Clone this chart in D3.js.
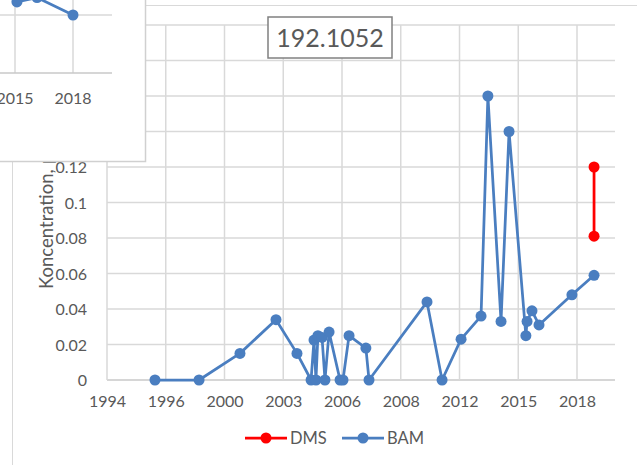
<!DOCTYPE html>
<html lang="en">
<head>
    <meta charset="utf-8">
    <title>BAM / DMS</title>
    <script src="https://d3js.org/d3.v7.min.js"></script>
    <style>
        body { margin: 0; background: #fff; }
        text { font-family: Lato, "Liberation Sans", sans-serif; fill: #595959; }
    </style>
</head>
<body>
<div id="chart"></div>
<script>
    // Measurement dates (decimal years on the chart's axis) and concentrations
    const bamDates = [1996.45, 1998.70, 2000.79, 2002.63, 2003.70, 2004.42, 2004.57, 2004.67,
        2004.77, 2004.98, 2005.13, 2005.34, 2005.90, 2006.05, 2006.36, 2007.22, 2007.38,
        2010.34, 2011.11, 2012.08, 2013.10, 2013.45, 2014.12, 2014.53, 2015.39, 2015.45,
        2015.70, 2016.06, 2017.74, 2018.87];
    const bamValues = [0, 0, 0.015, 0.034, 0.015, 0, 0.0225, 0, 0.025, 0.024, 0, 0.027,
        0, 0, 0.025, 0.018, 0, 0.044, 0, 0.023, 0.036, 0.16, 0.033, 0.14, 0.025, 0.033,
        0.039, 0.031, 0.048, 0.059];
    const dmsDates = [2018.87, 2018.87];
    const dmsValues = [0.12, 0.081];

    const xTickValues = [1994, 1997, 2000, 2003, 2006, 2009, 2012, 2015, 2018];
    const xTickLabels = ["1994", "1996", "2000", "2003", "2006", "2008", "2012", "2015", "2018"];
    const yTicks = [0, 0.02, 0.04, 0.06, 0.08, 0.1, 0.12, 0.14, 0.16, 0.18, 0.2];
    const titleText = "192.1052";
    const yTitle = "Koncentration, µg/l";

    // Overlapping piece of another chart (top-left corner)
    const insetDates = [2015.1, 2016.14, 2018.0];
    const insetValues = [0.0245, 0.026, 0.02];
    const insetTicks = [2015, 2018];

    const W = 637, H = 465;
    const plot = {left: 107, right: 615, top: 25, bottom: 380};
    const blue = "#4a7ec0", red = "#ff0000", grid = "#d9d9d9";

    const svg = d3.select("#chart").append("svg")
        .attr("width", W).attr("height", H);

    // Chart area border
    svg.append("rect")
        .attr("x", 12.5).attr("y", 5.5)
        .attr("width", W).attr("height", H)
        .attr("fill", "#fff").attr("stroke", grid);

    const x = d3.scaleLinear().domain([1994, 2019.94]).range([plot.left, plot.right]);
    const y = d3.scaleLinear().domain([0, 0.2]).range([plot.bottom, plot.top]);

    // Gridlines
    svg.append("g")
        .selectAll("line.h")
        .data(yTicks)
        .join("line")
        .attr("x1", plot.left).attr("x2", plot.right)
        .attr("y1", d => y(d)).attr("y2", d => y(d))
        .attr("stroke", d => d === 0 ? "#c8c8c8" : grid)
        .attr("stroke-width", 1.5);
    svg.append("g")
        .selectAll("line.v")
        .data(xTickValues)
        .join("line")
        .attr("x1", d => x(d)).attr("x2", d => x(d))
        .attr("y1", plot.top).attr("y2", plot.bottom)
        .attr("stroke", grid)
        .attr("stroke-width", 1.5);

    // Axes labels
    const yAxis = svg.append("g")
        .attr("transform", `translate(${plot.left - 17},0)`)
        .call(d3.axisLeft(y).tickValues(yTicks).tickSize(0).tickFormat(d => d3.format("~g")(d)));
    yAxis.select(".domain").remove();
    yAxis.selectAll("text").style("font-size", "16px").attr("fill", "#595959").attr("dy", "0.35em");

    const xAxis = svg.append("g")
        .attr("transform", `translate(0,${plot.bottom + 13})`)
        .call(d3.axisBottom(x).tickValues(xTickValues).tickSize(0)
            .tickFormat((d, i) => xTickLabels[i]));
    xAxis.select(".domain").remove();
    xAxis.selectAll("text").style("font-size", "16px").attr("fill", "#595959");

    // Axis title starts near the bottom and runs up under the inset
    svg.append("text")
        .attr("transform", "translate(53,289) rotate(-90)")
        .attr("text-anchor", "start")
        .style("font-size", "18.5px")
        .text(yTitle);

    // Series
    const line = d3.line().x(d => x(d[0])).y(d => y(d[1]));
    const bam = d3.zip(bamDates, bamValues);
    const dms = d3.zip(dmsDates, dmsValues);

    [[dms, red], [bam, blue]].forEach(([data, color]) => {
        svg.append("path")
            .datum(data)
            .attr("d", line)
            .attr("fill", "none")
            .attr("stroke", color)
            .attr("stroke-width", 2.75)
            .attr("stroke-linejoin", "round");
        svg.append("g")
            .selectAll("circle")
            .data(data)
            .join("circle")
            .attr("cx", d => x(d[0]))
            .attr("cy", d => y(d[1]))
            .attr("r", 5.5)
            .attr("fill", color);
    });

    // Title box
    const tb = svg.append("g").attr("transform", "translate(330,38)");
    tb.append("rect")
        .attr("x", -62).attr("y", -21).attr("width", 124).attr("height", 41)
        .attr("fill", "#fff").attr("stroke", "#808080").attr("stroke-width", 1.5);
    tb.append("text")
        .attr("text-anchor", "middle").attr("dy", "0.36em")
        .style("font-size", "25px").attr("fill", "#404040")
        .text(titleText);

    // Legend
    const legend = svg.append("g").attr("transform", "translate(0,438)");
    [["DMS", red, 245], ["BAM", blue, 342]].forEach(([name, color, lx]) => {
        legend.append("line")
            .attr("x1", lx).attr("x2", lx + 42)
            .attr("stroke", color).attr("stroke-width", 2.75);
        legend.append("circle").attr("cx", lx + 21).attr("r", 5.5).attr("fill", color);
        legend.append("text")
            .attr("x", lx + 45).attr("dy", "0.35em")
            .style("font-size", "16.5px")
            .text(name);
    });

    // Inset covering the top-left corner
    const inset = svg.append("g");
    inset.append("rect")
        .attr("x", -2).attr("y", -2).attr("width", 147.5).attr("height", 163.5)
        .attr("fill", "#fff").attr("stroke", "#d0d0d0").attr("stroke-width", 1.5);
    const ix = d3.scaleLinear().domain([2015, 2018]).range([15, 73]);
    const iy = d3.scaleLinear().domain([0, 0.02]).range([73, 15]);
    inset.selectAll("line.iv")
        .data(insetTicks)
        .join("line")
        .attr("x1", d => ix(d)).attr("x2", d => ix(d))
        .attr("y1", 0).attr("y2", iy(0))
        .attr("stroke", grid).attr("stroke-width", 1.5);
    inset.append("line")
        .attr("x1", 0).attr("x2", 112).attr("y1", iy(0.02)).attr("y2", iy(0.02))
        .attr("stroke", grid).attr("stroke-width", 1.5);
    inset.append("line")
        .attr("x1", 0).attr("x2", 112).attr("y1", iy(0)).attr("y2", iy(0))
        .attr("stroke", "#c8c8c8").attr("stroke-width", 1.5);
    inset.selectAll("text")
        .data(insetTicks)
        .join("text")
        .attr("x", d => ix(d)).attr("y", iy(0) + 25)
        .attr("text-anchor", "middle").attr("dy", "0.35em")
        .style("font-size", "16px")
        .text(d => d);
    const insetData = d3.zip(insetDates, insetValues);
    inset.append("path")
        .datum(insetData)
        .attr("d", d3.line().x(d => ix(d[0])).y(d => iy(d[1])))
        .attr("fill", "none").attr("stroke", blue).attr("stroke-width", 2.75);
    inset.selectAll("circle")
        .data(insetData)
        .join("circle")
        .attr("cx", d => ix(d[0])).attr("cy", d => iy(d[1]))
        .attr("r", 5.5).attr("fill", blue);
</script>
</body>
</html>
